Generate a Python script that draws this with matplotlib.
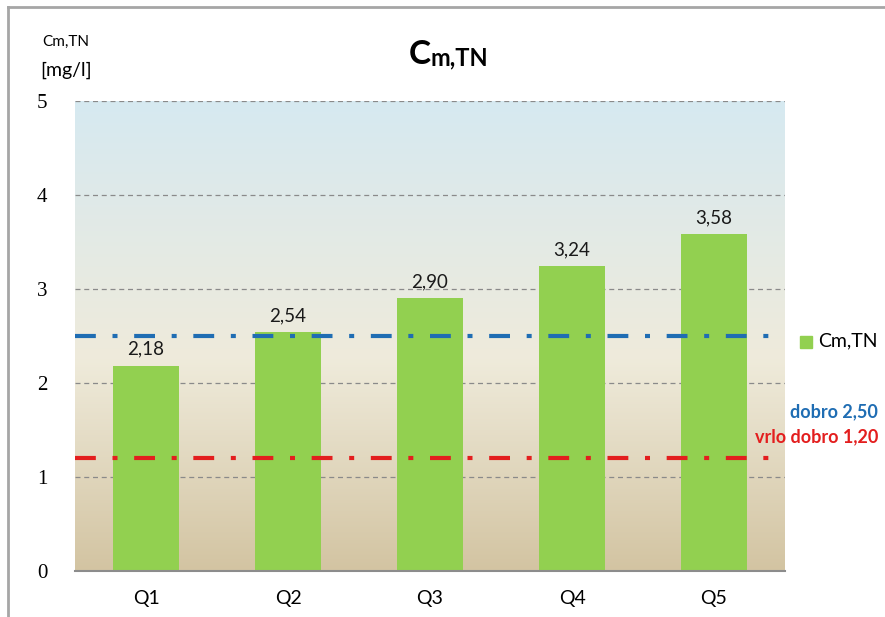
import numpy as np
import matplotlib
matplotlib.use("Agg")
import matplotlib.pyplot as plt
from matplotlib.colors import LinearSegmentedColormap
from matplotlib.patches import Rectangle
from matplotlib.lines import Line2D

categories = ["Q1", "Q2", "Q3", "Q4", "Q5"]
values = [2.18, 2.54, 2.90, 3.24, 3.58]
value_labels = ["2,18", "2,54", "2,90", "3,24", "3,58"]
limit_good = 2.50
limit_very_good = 1.20
series_name = "Cm,TN"
yticks = [0, 1, 2, 3, 4, 5]

fig = plt.figure(figsize=(8.85, 6.17), dpi=100)
fig.patch.set_facecolor("white")
ax = fig.add_axes([75/885, 46/617, 710/885, 470/617])

# gradient background
cmap = LinearSegmentedColormap.from_list("bg", [(0.0, "#d3c4a2"), (0.45, "#efebdb"), (1.0, "#d6e9f1")])
grad = np.linspace(0, 1, 256).reshape(-1, 1)
ax.imshow(grad, aspect="auto", cmap=cmap, origin="lower",
          extent=[-0.5, 4.5, 0, 5], zorder=0)

x = np.arange(len(categories))
ax.bar(x, values, width=0.46, color="#92d050", zorder=2)
for xi, v, lab in zip(x, values, value_labels):
    ax.annotate(lab, (xi, v), xytext=(0, 6), textcoords="offset points",
                ha="center", va="bottom", fontsize=13.5, family="Lato", color="#1a1a1a", zorder=5)

ax.axhline(limit_good, color="#1f6db3", lw=3, ls=(0, (5, 4, 1.2, 4)), zorder=4)
ax.axhline(limit_very_good, color="#e31e1e", lw=3, ls=(0, (5, 4, 1.2, 4)), zorder=4)

for yv in yticks[1:]:
    ax.axhline(yv, color="#8a8a8a", lw=0.9, ls=(0, (4, 3)), zorder=1)

ax.set_xlim(-0.5, 4.5)
ax.set_ylim(0, 5)
ax.set_xticks(x)
ax.set_xticklabels(categories, fontsize=14, family="Lato")
ax.set_yticks(yticks)
ax.set_yticklabels([str(t) for t in yticks], fontsize=15, family="Liberation Serif")
ax.tick_params(length=0, pad=14)
ax.tick_params(axis="y", pad=20)
for s in ["top", "right", "left"]:
    ax.spines[s].set_visible(False)
ax.spines["bottom"].set_color("#8c8c8c")
ax.spines["bottom"].set_linewidth(1.5)
ax.spines["bottom"].set_zorder(6)

# title
fig.text(431/885, 1 - 55/617, "C", fontsize=24, fontweight="bold", family="Lato", ha="right", va="center")
fig.text(431/885, 1 - 58/617, "m,TN", fontsize=17, fontweight="bold", family="Lato", ha="left", va="center")
# y label
fig.text(42/885, 1 - 42/617, "Cm,TN", fontsize=11, family="Lato", ha="left", va="center")
fig.text(40/885, 1 - 70/617, "[mg/l]", fontsize=14, family="Lato", ha="left", va="center")

# legend
fig.patches.append(Rectangle((800/885, 1 - 348/617), 12/885, 12/617, transform=fig.transFigure,
                             color="#92d050"))
fig.text(818/885, 1 - 341/617, series_name, fontsize=14, family="Lato", ha="left", va="center")
fig.text(878/885, 1 - 412/617, "dobro 2,50", fontsize=13, fontweight="bold", family="Lato",
         color="#1f6db3", ha="right", va="center")
fig.text(878/885, 1 - 437/617, "vrlo dobro 1,20", fontsize=13, fontweight="bold", family="Lato",
         color="#e31e1e", ha="right", va="center")

# outer frame
fig.add_artist(Line2D([8/885, 1], [1 - 7/617, 1 - 7/617], transform=fig.transFigure, color="#a6a6a6", lw=2))
fig.add_artist(Line2D([8/885, 8/885], [0, 1 - 7/617], transform=fig.transFigure, color="#a6a6a6", lw=2))

fig.savefig("out.png", dpi=100)
